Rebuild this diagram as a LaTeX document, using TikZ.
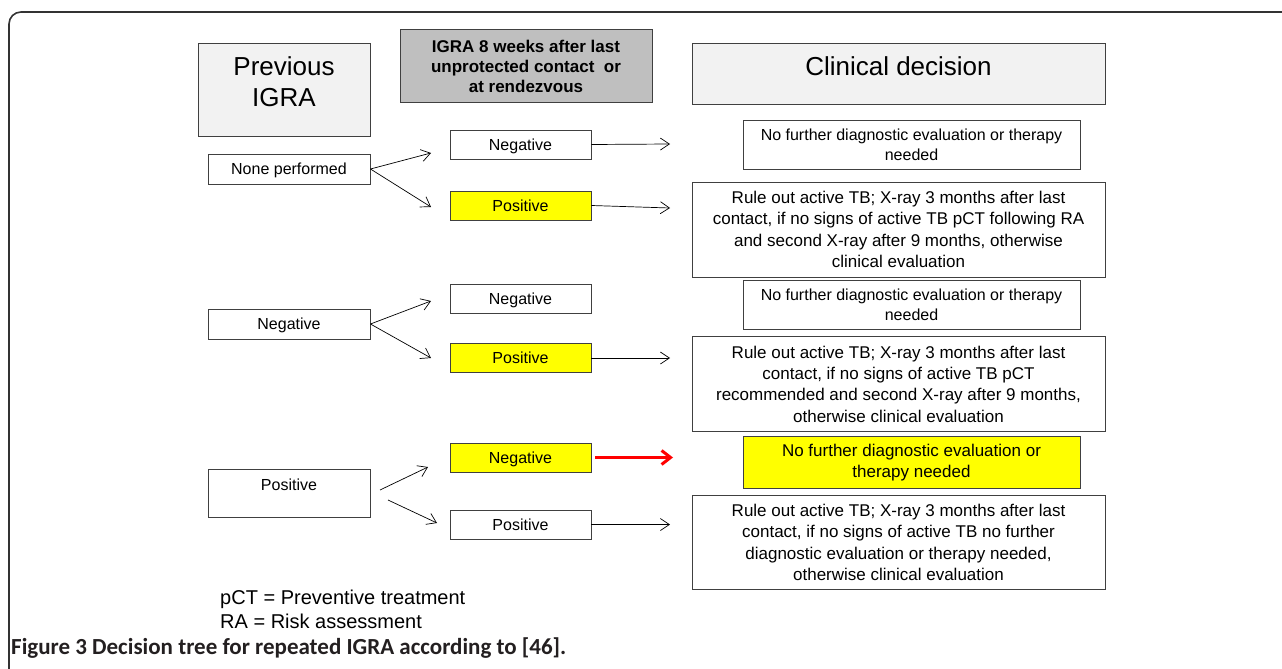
\documentclass[tikz,border=0pt]{standalone}
\usepackage{fontspec}
\setmainfont{Liberation Sans}
\newfontfamily\capfont{Carlito}
\usetikzlibrary{arrows.meta}
\definecolor{boxline}{HTML}{404040}
\definecolor{lightfill}{HTML}{F2F2F2}
\definecolor{midfill}{HTML}{BFBFBF}
\definecolor{hiyellow}{HTML}{FFFF00}
\definecolor{capgray}{HTML}{231F20}
\tikzset{
  box/.style={draw=boxline, line width=0.9pt, inner sep=0pt, align=center},
  small/.style={box, minimum width=141, minimum height=29, text depth=0pt, font=\fontsize{16}{19}\selectfont},
  leftbox/.style={box, minimum width=162, minimum height=30, text depth=0pt, font=\fontsize{16}{19}\selectfont},
  decsmall/.style={box, minimum width=337, minimum height=49, font=\fontsize{16}{20}\selectfont},
  decbig/.style={box, minimum width=413, minimum height=95, font=\fontsize{17}{21.3}\selectfont},
  arr/.style={-{Straight Barb[length=9, width=12]}, line width=0.7pt, black},
  redarr/.style={-{Straight Barb[length=9, width=14, line width=3pt]}, line width=3pt, red},
  plain/.style={inner sep=0pt, align=center}
}
\begin{document}
\begin{tikzpicture}[x=1pt,y=-1pt]
\useasboundingbox (0,0) rectangle (1282,669);
\begin{scope}
\clip (0,0) rectangle (1282,669);
\draw[black!80, line width=1.6pt, rounded corners=12] (9,12) rectangle (1300,700);
\end{scope}

% headers
\node[box, fill=lightfill, minimum width=172, minimum height=93] (prev) at (284,89.5) {};
\node[plain, font=\fontsize{26}{31}\selectfont] (prevtext) at (284,81.5) {Previous\\IGRA};
\node[box, fill=midfill, minimum width=252, minimum height=73, font=\bfseries\fontsize{17}{20}\selectfont] (igra) at (526,66) {IGRA 8 weeks after last\\unprotected contact~ or\\at rendezvous};
\node[box, fill=lightfill, minimum width=413, minimum height=61] (clin) at (898.5,73.5) {};
\node[plain, font=\fontsize{26}{31}\selectfont] (clintext) at (898.5,66.5) {Clinical decision};

% row 1
\node[leftbox] (none) at (289,169) {None performed};
\node[small] (neg1) at (520.5,144.5) {Negative};
\node[small, fill=hiyellow] (pos1) at (520.5,205.5) {Positive};
\node[decsmall] (d1) at (911.5,145) {No further diagnostic evaluation or therapy\\needed};
\node[decbig] (d2) at (898.5,229.5) {Rule out active TB; X-ray 3 months after last\\contact, if no signs of active TB pCT following RA\\and second X-ray after 9 months, otherwise\\clinical evaluation};

% row 2
\node[leftbox] (negl) at (289,324) {Negative};
\node[small] (neg2) at (520.5,298.5) {Negative};
\node[small, fill=hiyellow] (pos2) at (520.5,358) {Positive};
\node[decsmall] (d3) at (911.5,304.5) {No further diagnostic evaluation or therapy\\needed};
\node[decbig] (d4) at (898.5,384) {Rule out active TB; X-ray 3 months after last\\contact, if no signs of active TB pCT\\recommended and second X-ray after 9 months,\\otherwise clinical evaluation};

% row 3
\node[leftbox, minimum height=48] (posl) at (289,493) {};
\node[plain, font=\fontsize{16}{19}\selectfont] (posltext) at (289,485) {Positive};
\node[small, fill=hiyellow] (neg3) at (520.5,457.5) {Negative};
\node[small] (pos3) at (520.5,524.5) {Positive};
\node[box, fill=hiyellow, minimum width=337, minimum height=52, font=\fontsize{17}{21}\selectfont] (d5) at (911.5,462.5) {No further diagnostic evaluation or\\therapy needed};
\node[decbig, minimum height=94] (d6) at (898.5,542.5) {Rule out active TB; X-ray 3 months after last\\contact, if no signs of active TB no further\\diagnostic evaluation or therapy needed,\\otherwise clinical evaluation};

% free arrow ends
\coordinate (a1) at (431,153);
\coordinate (a2) at (431,207);
\coordinate (b1) at (670,144);
\coordinate (b2) at (670,208);
\coordinate (c1) at (431,301);
\coordinate (c2) at (431,358);
\coordinate (b4) at (670,358);
\coordinate (e0) at (380,490);
\coordinate (e1) at (428,467);
\coordinate (f0) at (388,500);
\coordinate (f1) at (437,523);
\coordinate (r0) at (595,457.5);
\coordinate (r1) at (673,457.5);
\coordinate (b6) at (670,524.5);

\draw[arr] (none.east) -- (a1);
\draw[arr] (none.east) -- (a2);
\draw[arr] (neg1.east) -- (b1);
\draw[arr] (pos1.east) -- (b2);
\draw[arr] (negl.east) -- (c1);
\draw[arr] (negl.east) -- (c2);
\draw[arr] (pos2.east) -- (b4);
\draw[arr] (e0) -- (e1);
\draw[arr] (f0) -- (f1);
\draw[redarr] (r0) -- (r1);
\draw[arr] (pos3.east) -- (b6);

% legend
\node[plain, anchor=west, align=left, font=\fontsize{20}{24}\selectfont] (legend) at (220,609) {pCT = Preventive treatment\\RA = Risk assessment};

% caption
\node[plain, anchor=west, text=capgray, font=\capfont\bfseries\fontsize{23}{26}\selectfont] (caption) at (11,648) {Figure 3 Decision tree for repeated IGRA according to [46].};
\end{tikzpicture}
\end{document}
